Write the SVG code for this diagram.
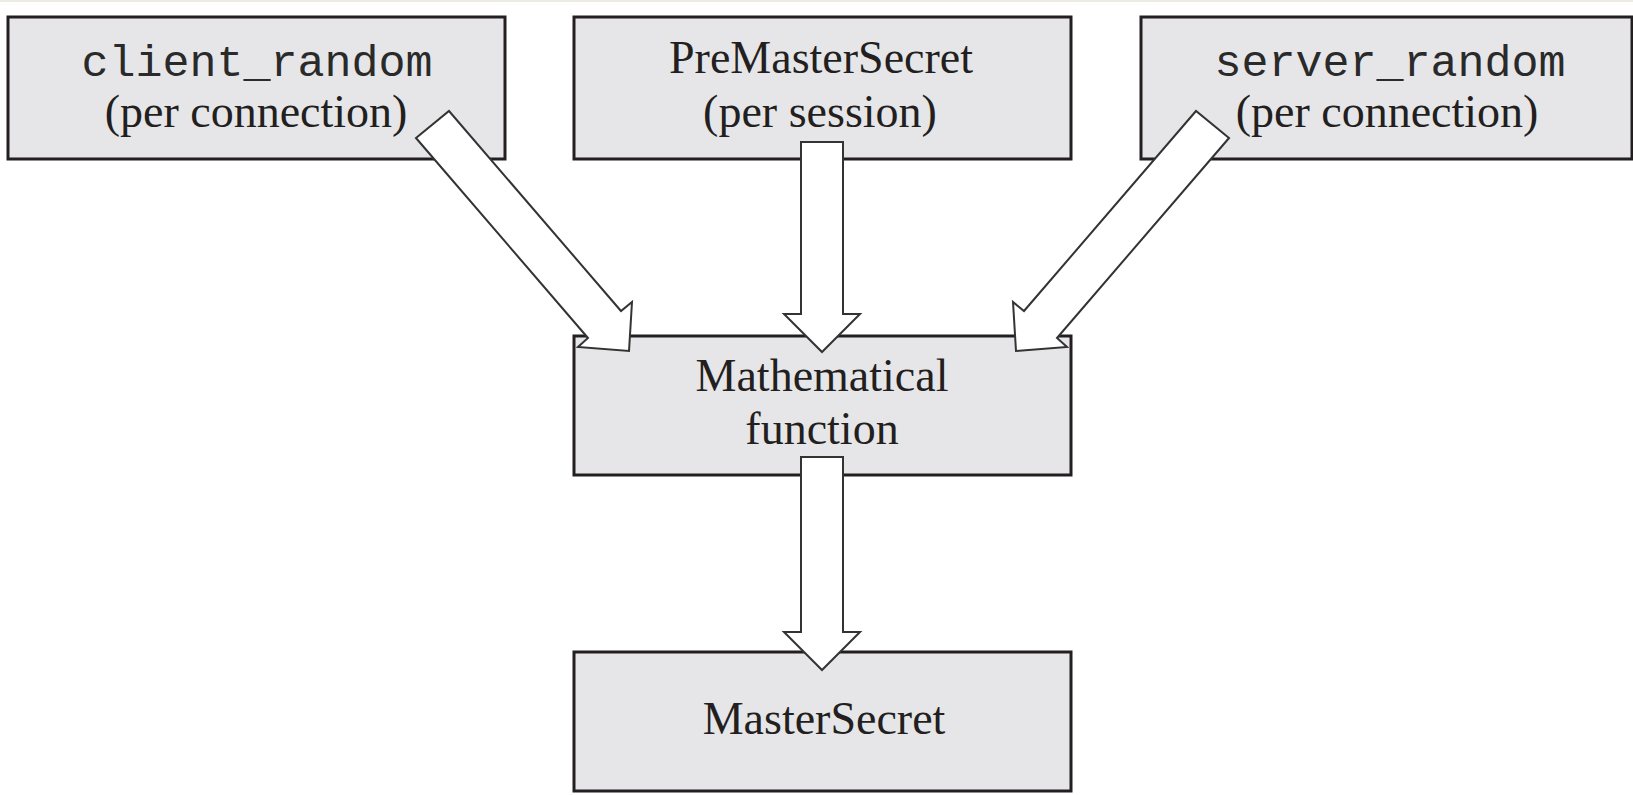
<svg xmlns="http://www.w3.org/2000/svg" width="1633" height="795" viewBox="0 0 1633 795">
<style>
.box{fill:#e6e6e8;stroke:#231f20;stroke-width:3}
.arr{fill:#ffffff;stroke:#333333;stroke-width:2;stroke-linejoin:miter}
.serif{font-family:"Liberation Serif","Times New Roman",serif;font-size:46px;fill:#231f20;text-anchor:middle}
.mono{font-family:"Liberation Mono","Courier New",monospace;font-size:45px;fill:#2a2a2a;text-anchor:middle}
</style>
<rect x="0" y="0" width="1633" height="795" fill="#ffffff"/>
<rect x="0" y="0" width="1633" height="2" fill="#eeebe4"/>
<g id="client_random">
<rect class="box" x="8" y="17" width="497" height="142"/>
<text class="mono" x="257" y="76">client_random</text>
<text class="serif" x="256" y="127">(per connection)</text>
</g>
<g id="premastersecret">
<rect class="box" x="574" y="17" width="497" height="142"/>
<text class="serif" x="821" y="73">PreMasterSecret</text>
<text class="serif" x="820" y="127">(per session)</text>
</g>
<g id="server_random">
<rect class="box" x="1141" y="17" width="491" height="142"/>
<text class="mono" x="1390" y="76">server_random</text>
<text class="serif" x="1387" y="127">(per connection)</text>
</g>
<g id="mathematical_function">
<rect class="box" x="574" y="336" width="497" height="139"/>
<text class="serif" x="822" y="391">Mathematical</text>
<text class="serif" x="822" y="444">function</text>
</g>
<g id="mastersecret">
<rect class="box" x="574" y="652" width="497" height="139"/>
<text class="serif" x="824" y="734">MasterSecret</text>
</g>
<g id="connectors">
<polygon class="arr" points="416,138 449,111 621,311 632,302 629,351 578,347 588,338"/>
<polygon class="arr" points="801,142 843,142 843,314 860,314 822,352 784,314 801,314"/>
<polygon class="arr" points="1229,138 1196,111 1024,311 1013,302 1016,351 1067,347 1057,338"/>
<polygon class="arr" points="801,457 843,457 843,632 860,632 822,670 784,632 801,632"/>
</g>
</svg>
